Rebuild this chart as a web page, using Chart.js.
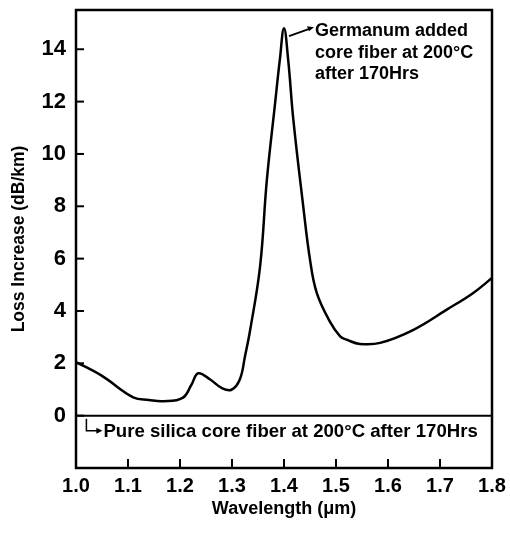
<!DOCTYPE html>
<html><head><meta charset="utf-8">
<script src="https://cdn.jsdelivr.net/npm/chart.js@4.4.1/dist/chart.umd.min.js"></script>
<style>html,body{margin:0;padding:0;background:#fff}#wrap{width:510px;height:534px;position:relative}</style>
</head><body><div id="wrap"><canvas id="c"></canvas></div>
<script>
// Germanium-added core fiber, 200°C after 170 h
const wavelength = [1.00, 1.05, 1.11, 1.14, 1.168, 1.205, 1.222, 1.235, 1.258, 1.28, 1.299, 1.315, 1.325, 1.335, 1.354, 1.367, 1.383, 1.392, 1.400, 1.408, 1.418, 1.437, 1.450, 1.463, 1.488, 1.508, 1.521, 1.546, 1.585, 1.649, 1.713, 1.764, 1.80];
const lossGe     = [2.05, 1.52, 0.70, 0.60, 0.55, 0.68, 1.18, 1.62, 1.38, 1.06, 0.99, 1.38, 2.27, 3.28, 5.70, 9.0, 11.96, 13.6, 14.8, 13.6, 11.3, 8.0, 5.96, 4.69, 3.6, 3.03, 2.90, 2.74, 2.78, 3.28, 4.05, 4.69, 5.26];
// Pure silica core fiber
const silicaWavelength = [1.0, 1.8];
const lossSilica = [0, 0];
const xTicks = [1.0, 1.1, 1.2, 1.3, 1.4, 1.5, 1.6, 1.7, 1.8];
const yTicks = [0, 2, 4, 6, 8, 10, 12, 14];
const geLabel = ['Germanum added', 'core fiber at 200°C', 'after 170Hrs'];
const silicaLabel = 'Pure silica core fiber at 200°C after 170Hrs';
const xTitle = 'Wavelength (μm)';
const yTitle = 'Loss Increase (dB/km)';

const FAM = '"Liberation Sans", Arial, sans-serif';

const framePlugin = {
  id: 'frame',
  afterDraw(chart) {
    const {ctx, chartArea: a, scales: {x, y}} = chart;
    ctx.save();
    ctx.strokeStyle = '#000';
    ctx.fillStyle = '#000';
    ctx.lineWidth = 2.5;
    ctx.strokeRect(a.left, a.top, a.right - a.left, a.bottom - a.top);
    // inward ticks
    ctx.lineWidth = 2;
    yTicks.forEach(v => {
      const py = y.getPixelForValue(v);
      ctx.beginPath(); ctx.moveTo(a.left, py); ctx.lineTo(a.left + 8, py); ctx.stroke();
    });
    xTicks.slice(1, -1).forEach(v => {
      const px = x.getPixelForValue(v);
      ctx.beginPath(); ctx.moveTo(px, a.bottom); ctx.lineTo(px, a.bottom - 9); ctx.stroke();
    });
    // Germanium annotation
    const peakIdx = lossGe.indexOf(Math.max(...lossGe));
    const sx = x.getPixelForValue(wavelength[peakIdx]) + 5;
    const sy = y.getPixelForValue(lossGe[peakIdx] - 0.3);
    const tx = sx + 25, ty = sy - 9;
    ctx.lineWidth = 1.8;
    ctx.beginPath(); ctx.moveTo(sx, sy); ctx.lineTo(tx - 4, ty + 1.5); ctx.stroke();
    ctx.beginPath(); ctx.moveTo(tx, ty); ctx.lineTo(tx - 7, ty - 1); ctx.lineTo(tx - 5, ty + 4); ctx.closePath(); ctx.fill();
    ctx.font = 'bold 18px ' + FAM;
    ctx.textBaseline = 'alphabetic';
    ctx.textAlign = 'left';
    geLabel.forEach((t, i) => ctx.fillText(t, tx + 1, ty + 9 + i * 21.5));
    // Pure silica annotation
    const zx = x.getPixelForValue(1.02);
    const zy = y.getPixelForValue(0);
    ctx.lineWidth = 1.5;
    ctx.beginPath(); ctx.moveTo(zx, zy + 3); ctx.lineTo(zx, zy + 15); ctx.lineTo(zx + 12, zy + 15); ctx.stroke();
    ctx.beginPath(); ctx.moveTo(zx + 16, zy + 15); ctx.lineTo(zx + 10, zy + 12); ctx.lineTo(zx + 10, zy + 18); ctx.closePath(); ctx.fill();
    ctx.font = 'bold 18.6px ' + FAM;
    ctx.fillText(silicaLabel, zx + 17, zy + 21);
    ctx.restore();
  }
};

new Chart(document.getElementById('c'), {
  type: 'line',
  data: {
    datasets: [
      {
        label: 'Germanium added core fiber',
        data: wavelength.map((w, i) => ({x: w, y: lossGe[i]})),
        borderColor: '#000', borderWidth: 2.5, pointRadius: 0,
        tension: 0.4, fill: false
      },
      {
        label: 'Pure silica core fiber',
        data: silicaWavelength.map((w, i) => ({x: w, y: lossSilica[i]})),
        borderColor: '#000', borderWidth: 2, pointRadius: 0, fill: false
      }
    ]
  },
  options: {
    responsive: true, maintainAspectRatio: false, animation: false,
    layout: {padding: {top: 10, right: 18, left: 0, bottom: 0}},
    plugins: {legend: {display: false}, tooltip: {enabled: false}},
    scales: {
      x: {
        type: 'linear', min: 1.0, max: 1.8,
        afterBuildTicks: s => { s.ticks = xTicks.map(v => ({value: v})); },
        afterFit: s => { s.height = 66; s.paddingLeft = 0; s.paddingRight = 0; },
        grid: {display: false, drawTicks: false}, border: {display: false},
        ticks: {callback: v => Number(v).toFixed(1), color: '#000', padding: 6, maxRotation: 0, autoSkip: false,
                font: {family: FAM, size: 20, weight: 'bold'}},
        title: {display: true, text: xTitle, color: '#000', padding: {top: 0, bottom: 14},
                font: {family: FAM, size: 18, weight: 'bold'}}
      },
      y: {
        min: -2, max: 15.5,
        afterBuildTicks: s => { s.ticks = yTicks.map(v => ({value: v})); },
        afterFit: s => { s.width = 76; s.paddingTop = 0; s.paddingBottom = 0; },
        grid: {display: false, drawTicks: false}, border: {display: false},
        ticks: {color: '#000', padding: 10, autoSkip: false,
                font: {family: FAM, size: 22, weight: 'bold'}},
        title: {display: true, text: yTitle, color: '#000', padding: {top: 8.5, bottom: 0},
                font: {family: FAM, size: 17.5, weight: 'bold'}}
      }
    }
  },
  plugins: [framePlugin]
});
</script>
</body></html>
